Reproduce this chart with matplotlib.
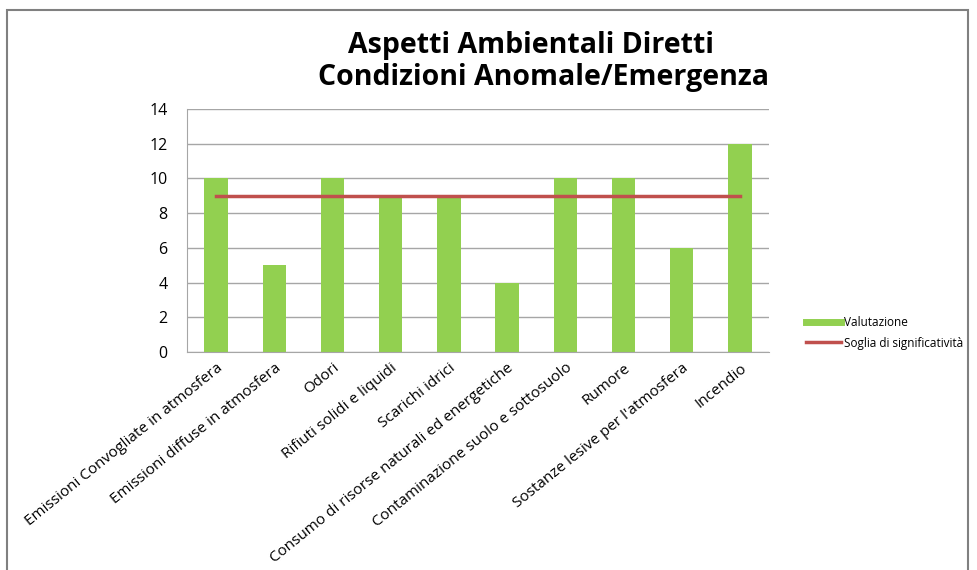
import matplotlib.pyplot as plt
from matplotlib.patches import Rectangle
from matplotlib.lines import Line2D
import numpy as np

categories = [
    'Emissioni Convogliate in atmosfera',
    'Emissioni diffuse in atmosfera',
    'Odori',
    'Rifiuti solidi e liquidi',
    'Scarichi idrici',
    'Consumo di risorse naturali ed energetiche',
    'Contaminazione suolo e sottosuolo',
    'Rumore',
    "Sostanze lesive per l'atmosfera",
    'Incendio',
]
valutazione = [10, 5, 10, 9, 9, 4, 10, 10, 6, 12]
soglia = [9, 9, 9, 9, 9, 9, 9, 9, 9, 9]

green = '#92D050'
red = '#C0504D'
grid = '#A6A6A6'

plt.rcParams['font.family'] = ['Open Sans', 'DejaVu Sans']

fig = plt.figure(figsize=(9.77, 5.70), dpi=100)
ax = fig.add_axes([187 / 977, 1 - 352 / 570, (769 - 187) / 977, (352 - 109) / 570])

# outer frame of the chart object
fig.patches.append(Rectangle((7 / 977, -0.05), (968 - 7) / 977, 1 - 10 / 570 + 0.05,
                             transform=fig.transFigure, fill=False,
                             edgecolor='#808080', linewidth=1.5))

x = np.arange(len(categories))
ax.bar(x, valutazione, width=0.4, color=green, zorder=2)
ax.plot(x, soglia, color=red, linewidth=2.5, zorder=3)

ax.set_xlim(-0.5, len(categories) - 0.5)
ax.set_ylim(0, 14)
ax.set_yticks(range(0, 15, 2))
ax.yaxis.grid(True, color=grid, linewidth=1, zorder=0)
ax.set_axisbelow(True)

for s in ['top', 'right']:
    ax.spines[s].set_visible(False)
for s in ['left', 'bottom']:
    ax.spines[s].set_color(grid)
ax.tick_params(axis='both', length=0, colors='black')
ax.tick_params(axis='y', pad=14, labelsize=11.5)

ax.set_xticks(x)
ax.set_xticklabels(categories, rotation=39, ha='right', rotation_mode='anchor',
                   fontsize=11)
ax.tick_params(axis='x', pad=6)

# two-line title, each line centred on its own
fig.text(531 / 977, 1 - 46 / 570, 'Aspetti Ambientali Diretti', ha='center', va='center',
         fontsize=20.5, fontweight='bold')
fig.text(543 / 977, 1 - 78 / 570, 'Condizioni Anomale/Emergenza', ha='center', va='center',
         fontsize=20.5, fontweight='bold')

handles = [Line2D([0], [0], color=green, linewidth=5),
           Line2D([0], [0], color=red, linewidth=2.5)]
fig.legend(handles, ['Valutazione', 'Soglia di significatività'],
           loc='center left', bbox_to_anchor=(795 / 977, 1 - 333 / 570),
           frameon=False, fontsize=8.5, handlelength=3.0, handletextpad=0.25,
           labelspacing=0.6)

fig.savefig('out.png', dpi=100)
